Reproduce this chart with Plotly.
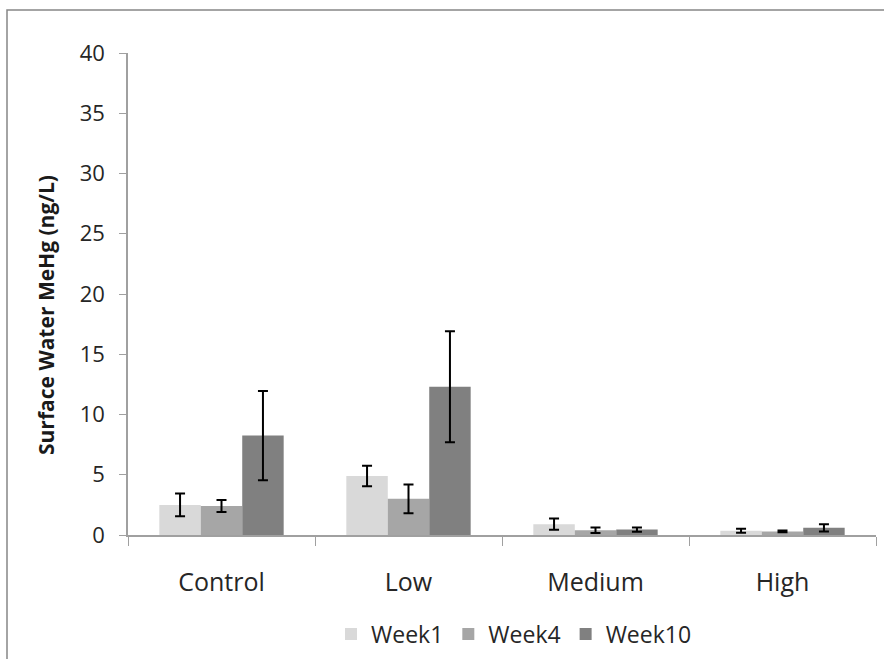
import plotly.graph_objects as go

categories = ["Control", "Low", "Medium", "High"]
series_names = ["Week1", "Week4", "Week10"]
week1 = [2.5, 4.9, 0.9, 0.35]
week1_err = [0.95, 0.85, 0.47, 0.17]
week4 = [2.4, 3.0, 0.4, 0.3]
week4_err = [0.5, 1.2, 0.23, 0.08]
week10 = [8.25, 12.3, 0.45, 0.6]
week10_err = [3.7, 4.6, 0.18, 0.3]
colors = ["#d9d9d9", "#a6a6a6", "#808080"]

FONT = "Open Sans"

fig = go.Figure()
for name, vals, errs, col in zip(series_names, [week1, week4, week10],
                                 [week1_err, week4_err, week10_err], colors):
    fig.add_trace(go.Bar(
        x=categories, y=vals, name=name, marker=dict(color=col, line=dict(width=0)),
        error_y=dict(type="data", array=errs, visible=True, color="black",
                     thickness=2, width=5),
    ))

L, R, T, B = 128, 8, 53, 124
W, H = 884, 659
pw, ph = W - L - R, H - T - B

def px2x(px):
    return (px - L) / pw

def py2y(py):
    return (H - B - py) / ph

fig.update_layout(
    width=W, height=H,
    margin=dict(l=L, r=R, t=T, b=B, autoexpand=False),
    paper_bgcolor="white", plot_bgcolor="white",
    barmode="group", bargap=0.335, bargroupgap=0,
    font=dict(family=FONT, color="#262626"),
    showlegend=True,
    legend=dict(orientation="h", xref="container", yref="container",
                x=514 / W, xanchor="center", y=1 - 634 / H, yanchor="middle",
                bgcolor="rgba(0,0,0,0)",
                font=dict(size=23, family=FONT), itemwidth=30, traceorder="normal"),
    xaxis=dict(showline=True, linecolor="#a0a0a0", linewidth=1.5, ticks="outside",
               tickson="boundaries", ticklen=9, tickcolor="#a0a0a0", automargin=False,
               tickfont=dict(size=25, family=FONT, color="#262626"),
               ticklabelstandoff=24, showgrid=False),
    yaxis=dict(range=[0, 40], dtick=5, showline=True, linecolor="#a0a0a0", linewidth=1.5,
               ticks="outside", ticklen=7, tickcolor="#a0a0a0", showgrid=False,
               zeroline=False, automargin=False,
               tickfont=dict(size=22, family=FONT, color="#262626"),
               ticklabelstandoff=10),
    shapes=[dict(type="rect", xref="paper", yref="paper",
                 x0=px2x(7), x1=px2x(900), y0=py2y(680), y1=py2y(10),
                 line=dict(color="#868686", width=1.5), fillcolor="rgba(0,0,0,0)",
                 layer="below")],
    annotations=[dict(text="<b>Surface Water MeHg (ng/L)</b>", xref="paper", yref="paper",
                      x=px2x(46), y=py2y(315), textangle=-90, showarrow=False,
                      font=dict(size=21, family=FONT, color="#1a1a1a"),
                      xanchor="center", yanchor="middle")],
)

fig.write_html("out.html")
